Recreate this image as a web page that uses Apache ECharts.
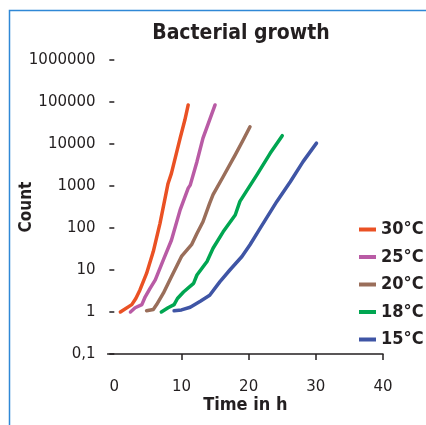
<!DOCTYPE html>
<html>
<head>
<meta charset="utf-8">
<script src="https://cdn.jsdelivr.net/npm/echarts@6/dist/echarts.min.js"></script>
<style>html,body{margin:0;padding:0;background:#fff}#c{width:426px;height:425px}</style>
</head>
<body>
<div id="c"></div>
<script>
const seriesNames = ['30°C', '25°C', '20°C', '18°C', '15°C'];
const seriesColors = ['#EA5124', '#B95BA5', '#9A6E5A', '#00A651', '#3F55A5'];

const time30 = [0.9, 2.6, 3.2, 3.8, 4.8, 5.8, 6.8, 8.0, 8.5, 9.8, 10.5, 11.0];
const count30 = [1, 1.5, 2.1, 3.3, 8.3, 27.5, 129, 1150, 2000, 13800, 37200, 85100];

const time25 = [2.4, 3.1, 4.1, 4.6, 5.3, 6.1, 7.3, 8.5, 9.8, 11.0, 11.3, 12.3, 13.2, 14.0, 15.0];
const count25 = [1, 1.26, 1.5, 2.3, 3.6, 5.8, 17.4, 51, 270, 890, 1050, 3800, 13800, 31000, 85000];

const time20 = [4.8, 5.8, 6.3, 7.3, 8.5, 10.0, 11.5, 12.3, 13.2, 14.2, 14.7, 16.2, 18.0, 19.2, 20.2];
const count20 = [1.07, 1.15, 1.5, 2.8, 6.9, 21, 40, 74, 141, 390, 620, 1660, 5500, 12600, 25700];

const time18 = [7.0, 8.0, 8.9, 9.4, 10.3, 11.8, 12.3, 13.8, 14.7, 16.2, 18.0, 18.7, 21.2, 23.2, 25.0];
const count18 = [1, 1.26, 1.5, 2.1, 3.0, 4.8, 7.6, 16, 33, 81, 204, 430, 1820, 6000, 15800];

const time15 = [8.9, 10.0, 11.3, 12.8, 14.2, 15.7, 17.2, 19.0, 20.2, 21.7, 24.2, 26.2, 28.1, 30.1];
const count15 = [1.07, 1.12, 1.3, 1.8, 2.5, 5.2, 10, 21, 40, 98, 430, 1260, 3800, 10500];

const xTickLabels = [0, 10, 20, 30, 40];
const xTicks = [10, 20, 30, 40];

const times = [time30, time25, time20, time18, time15];
const counts = [count30, count25, count20, count18, count15];

const chart = echarts.init(document.getElementById('c'), null, {renderer: 'canvas'});
const txt = '#231F20';
const condBold = '"DejaVu Sans Condensed", "DejaVu Sans", sans-serif';

chart.setOption({
  backgroundColor: '#ffffff',
  animation: false,
  title: {
    text: 'Bacterial growth',
    left: 236, top: 18, textAlign: 'center',
    textStyle: {fontFamily: condBold, fontWeight: 'bold', fontSize: 21, color: txt}
  },
  graphic: [{
    type: 'polyline', silent: true,
    shape: {points: [[9.5, 430], [9.5, 10.5], [430, 10.5]]},
    style: {stroke: '#2F88D6', lineWidth: 1.5, fill: null}
  }],
  legend: {
    orient: 'vertical', left: 354, top: 214.5,
    icon: 'rect', itemWidth: 17, itemHeight: 4, itemGap: 7.5,
    textStyle: {fontFamily: condBold, fontWeight: 'bold', fontSize: 18, color: txt, lineHeight: 20, padding: [0, 0, 0, 0]},
    data: seriesNames
  },
  grid: {left: 107.6, top: 60, width: 275.4, height: 294, containLabel: false, outerBoundsMode: 'none'},
  xAxis: {
    type: 'value', min: -1, max: 40,
    name: 'Time in h', nameLocation: 'middle', nameGap: 42, nameMoveOverlap: false,
    nameTextStyle: {fontFamily: condBold, fontWeight: 'bold', fontSize: 18, color: txt},
    axisLine: {onZero: false, lineStyle: {color: '#231F20', width: 1.5}},
    axisTick: {customValues: xTicks, length: 6, lineStyle: {color: '#231F20', width: 1.5}},
    axisLabel: {customValues: xTickLabels, margin: 26, fontFamily: '"DejaVu Sans", sans-serif', fontSize: 15, color: txt},
    splitLine: {show: false}
  },
  yAxis: {
    type: 'log', logBase: 10, min: 0.1, max: 1000000,
    name: 'Count', nameLocation: 'middle', nameGap: 73, nameRotate: 90, nameMoveOverlap: false,
    nameTextStyle: {fontFamily: condBold, fontWeight: 'bold', fontSize: 17, color: txt},
    axisLine: {show: false, onZero: true},
    axisTick: {show: true, length: 5, lineStyle: {color: '#231F20', width: 1.5}},
    axisLabel: {
      margin: 12, fontFamily: '"DejaVu Sans", sans-serif', fontSize: 15, color: txt,
      formatter: v => (v < 1 ? '0,1' : String(Math.round(v)))
    },
    splitLine: {show: false}
  },
  series: seriesNames.map((n, i) => ({
    name: n, type: 'line', showSymbol: false, symbol: 'none',
    color: seriesColors[i],
    lineStyle: {width: 3.5, cap: 'round', join: 'round', color: seriesColors[i]},
    data: times[i].map((t, j) => [t, counts[i][j]])
  }))
});
</script>
</body>
</html>
